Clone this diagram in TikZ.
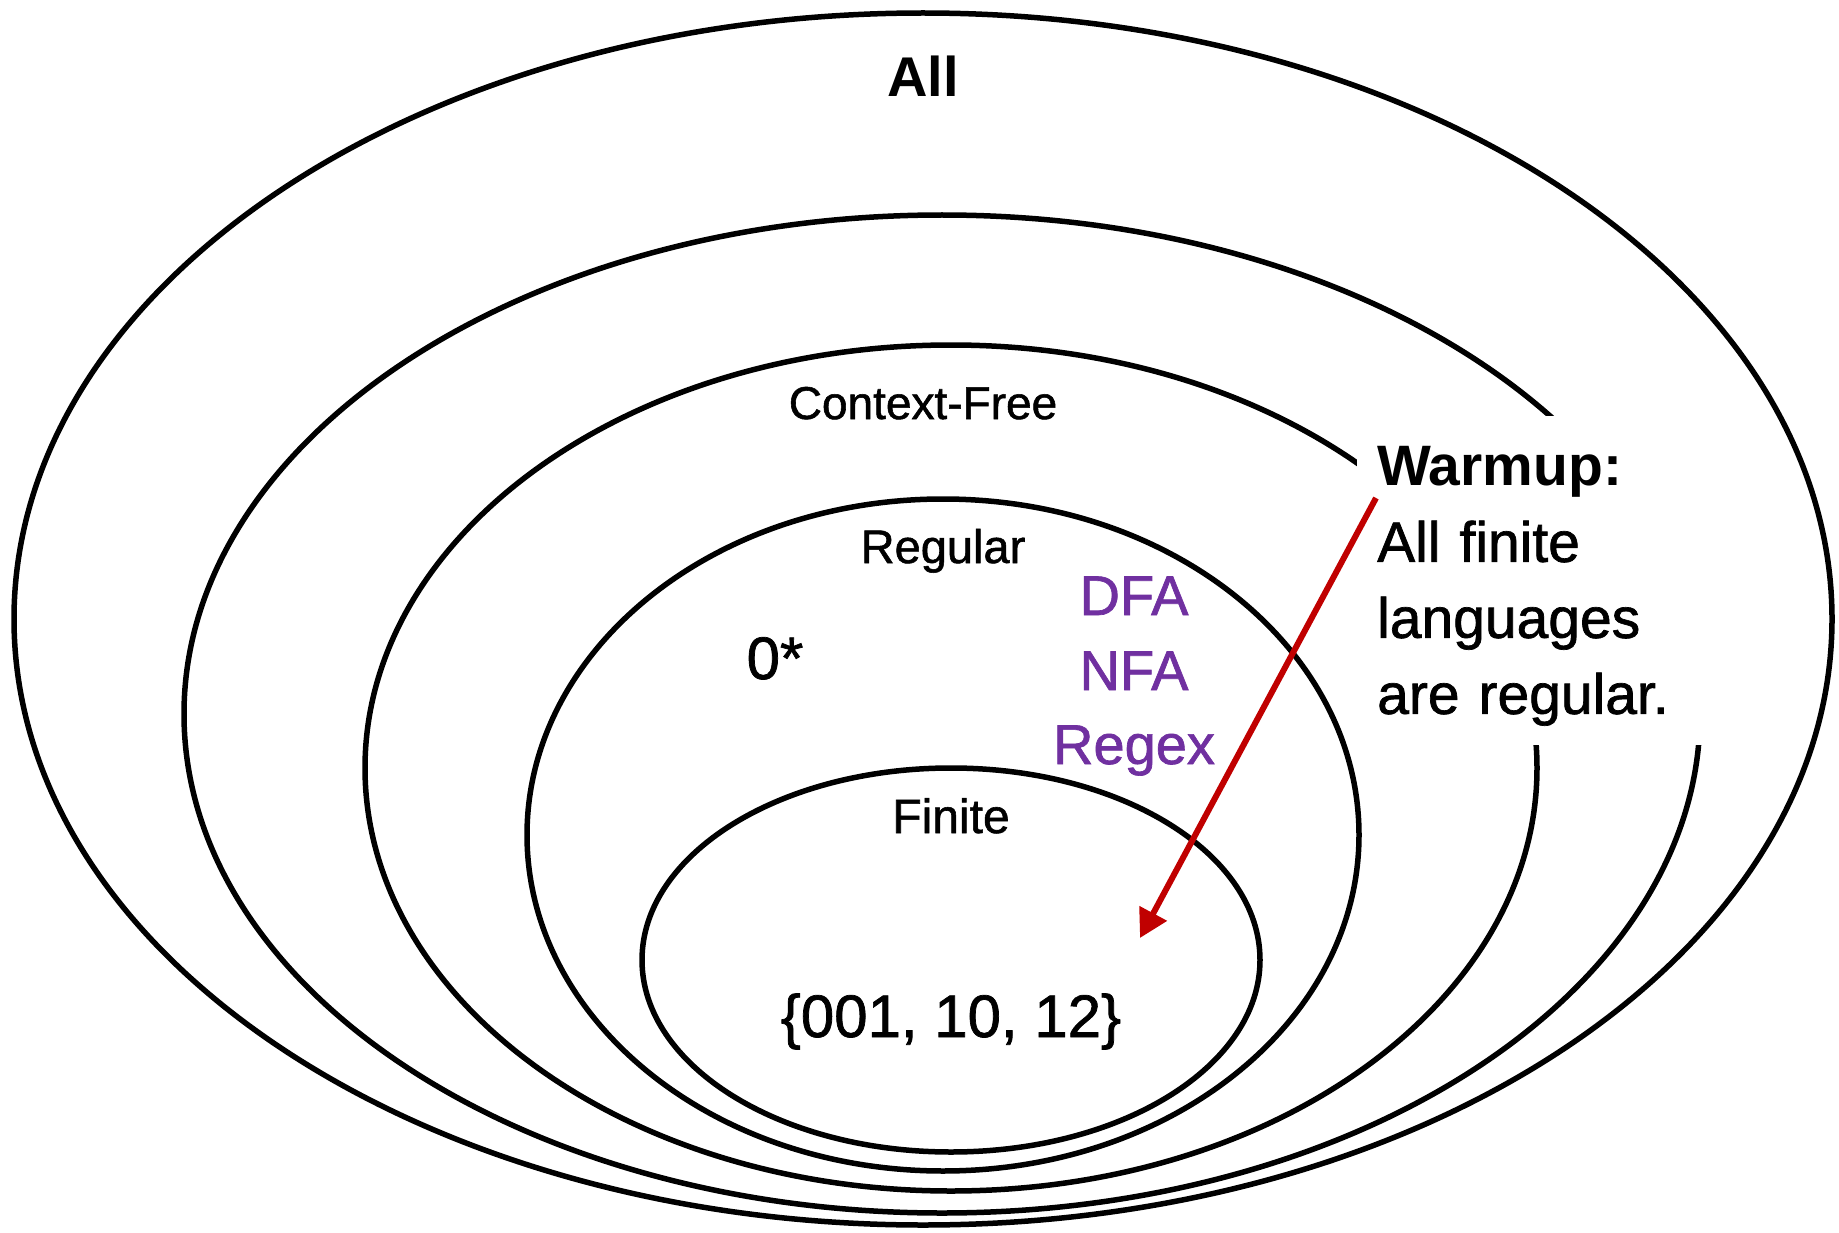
\documentclass[tikz,border=0pt]{standalone}
\usepackage{fontspec}
\setmainfont{Liberation Sans}[UprightFeatures={FakeBold=1.2}]
\usetikzlibrary{arrows.meta}
\definecolor{hintred}{HTML}{C00000}
\definecolor{modelpurple}{HTML}{7030A0}
\begin{document}
\begin{tikzpicture}[x=1pt, y=-1pt, langset/.style={line width=5.5pt}, setname/.style={inner sep=0pt, anchor=base}, model/.style={setname, text=modelpurple, font=\fontsize{56}{60}\selectfont}]
  \useasboundingbox (0,0) rectangle (1839,1233);
  % nested classes of languages
  \draw[langset] (923,619) ellipse [x radius=909, y radius=606];
  \draw[langset] (942,714) ellipse [x radius=758, y radius=499];
  \draw[langset] (951,768) ellipse [x radius=586, y radius=423];
  \draw[langset] (943,835) ellipse [x radius=416, y radius=336];
  \draw[langset] (951,960) ellipse [x radius=309, y radius=192];
  % the note hides the lines behind it
  \node(warmup)[anchor=north west, fill=white, inner xsep=20pt, inner ysep=0pt, text width=330pt, minimum height=329pt, align=left, font=\fontsize{57}{76}\selectfont] at (1357,416) {\textbf{Warmup:}\\All finite\\languages\\are regular.\vspace*{-11pt}};
  \node(all)[setname, font=\bfseries\fontsize{56}{60}\selectfont] at (923,97) {All};
  \node(cfl)[setname, font=\fontsize{46}{50}\selectfont] at (923,419) {Context-Free};
  \node(reg)[setname, font=\fontsize{47}{50}\selectfont] at (943,563) {Regular};
  \node(fin)[setname, font=\fontsize{48}{50}\selectfont] at (951,833) {Finite};
  \node(star)[setname, font=\fontsize{60}{60}\selectfont] at (775,679) {0*};
  \node(dfa)[model] at (1134,615) {DFA};
  \node(nfa)[model] at (1134,690) {NFA};
  \node(regex)[model] at (1134,764) {Regex};
  \node(example)[setname, font=\fontsize{60}{60}\selectfont] at (951,1037) {\{001, 10, 12\}};
  \coordinate(tail) at (1376,498);
  \coordinate(tip) at (1140,938);
  \draw[hintred, line width=6pt, -{Triangle[length=28pt, width=30pt]}] (tail) -- (tip);
\end{tikzpicture}
\end{document}
